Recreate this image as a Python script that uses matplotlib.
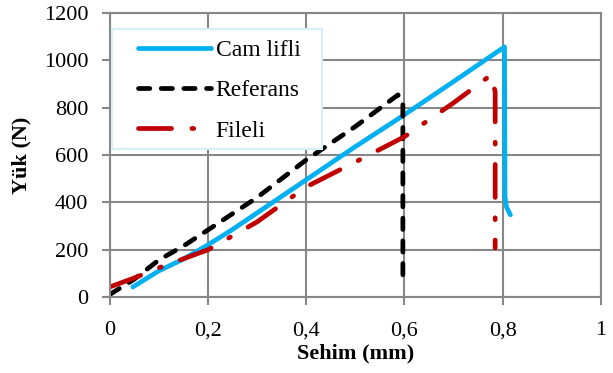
import numpy as np
import matplotlib.pyplot as plt
from matplotlib.patches import Rectangle

plt.rcParams['font.family'] = ['Liberation Serif', 'DejaVu Serif']

# Cam lifli
cam_x = [0.047, 0.1, 0.15, 0.2, 0.25, 0.3, 0.4, 0.5, 0.6, 0.7, 0.804, 0.805, 0.808, 0.816]
cam_y = [42, 110, 160, 220, 285, 355, 495, 635, 770, 910, 1057, 423, 380, 347]

# Referans
ref_x = [0.0, 0.05, 0.1, 0.15, 0.2, 0.3, 0.4, 0.5, 0.587, 0.597, 0.597]
ref_y = [10, 75, 156, 215, 283, 420, 579, 720, 854, 830, 80]

# Fileli
fil_x = [0.0, 0.05, 0.1, 0.2, 0.3, 0.4, 0.5, 0.6, 0.7, 0.777, 0.785, 0.785]
fil_y = [42, 80, 123, 199, 317, 465, 570, 677, 820, 939, 867, 207]

fig, ax = plt.subplots(figsize=(6.13, 3.73), dpi=100)
fig.subplots_adjust(left=0.179, right=0.98, bottom=0.204, top=0.965)

ax.plot(cam_x, cam_y, color='#00B0F0', lw=3.4, label='Cam lifli', solid_capstyle='round')
ax.plot(ref_x, ref_y, color='black', lw=3.4, ls=(0, (2.4, 2.4)), label='Referans',
        dash_capstyle='round')
ax.plot(fil_x, fil_y, color='#C00000', lw=3.4, ls=(0, (7, 4.3, 0.4, 4.3)), label='Fileli',
        dash_capstyle='round')

ax.set_xlim(0, 1)
ax.set_ylim(0, 1200)
ax.set_xticks(np.arange(0, 1.01, 0.2))
ax.set_xticklabels(['0', '0,2', '0,4', '0,6', '0,8', '1'])
ax.set_yticks(np.arange(0, 1201, 200))
ax.grid(True, color='#878787', lw=1.5)
ax.set_axisbelow(True)
for s in ax.spines.values():
    s.set_color('#878787')
    s.set_linewidth(1.5)
ax.tick_params(colors='#878787', labelcolor='black', labelsize=16, width=1.5, length=6)
ax.tick_params(axis='y', pad=9.5)
ax.tick_params(axis='x', pad=11.5)

ax.set_xlabel('Sehim (mm)', fontsize=16, fontweight='bold', labelpad=2)
ax.set_ylabel('Yük (N)', fontsize=16, fontweight='bold', labelpad=9)

# legend frame drawn separately so the inner padding can differ per side
ax.add_patch(Rectangle((0.004, 0.52), 0.428, 0.425, transform=ax.transAxes,
                       facecolor='white', edgecolor='#D6EEF8', lw=1.5, zorder=4))
leg = ax.legend(loc='upper left', bbox_to_anchor=(0.045, 0.928), fontsize=17, frameon=False,
                handlelength=3.1, borderpad=0.25, labelspacing=0.8, handletextpad=0.2,
                borderaxespad=0)
leg.set_zorder(5)

fig.savefig('out.png', dpi=100)
